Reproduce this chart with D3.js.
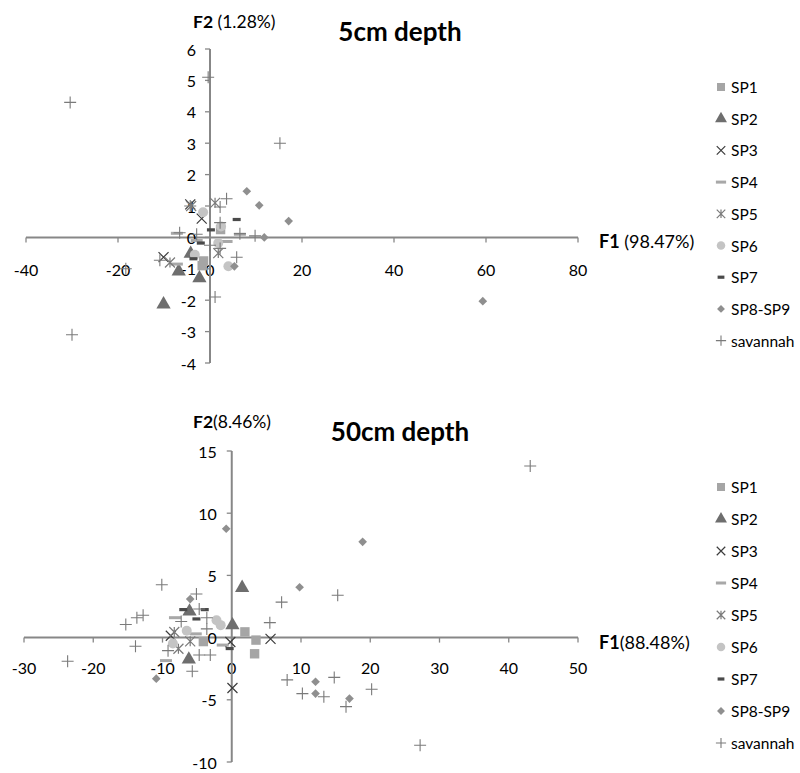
<!DOCTYPE html>
<html><head><meta charset="utf-8">
<script src="https://cdn.jsdelivr.net/npm/d3@7"></script>
<style>body{margin:0;background:#fff}svg{display:block}text{font-family:Lato,"Open Sans",sans-serif}</style>
</head><body>
<svg id="c" width="800" height="773"></svg>
<script>
const seriesNames = ["SP1","SP2","SP3","SP4","SP5","SP6","SP7","SP8-SP9","savannah"];

// ---- 5cm depth (F1, F2) ----
const top_SP1 = [[2.3,0.25],[-1.7,-0.9],[-1.4,-0.75]];
const top_SP2 = [[-4.2,-0.52],[-6.8,-1.08],[-2.3,-1.3],[-10.1,-2.13]];
const top_SP3 = [[-4.3,1.05],[-1.8,0.6],[-10.1,-0.63]];
const top_SP4 = [[-7.2,0.13],[6.5,0.1],[3.6,-0.13],[-2.9,-0.1],[-7.2,-0.85]];
const top_SP5 = [[1.1,1.1],[1.8,-0.5],[-8.7,-0.8],[-4.1,1.0]];
const top_SP6 = [[-1.5,0.8],[2.4,0.35],[1.8,-0.18],[-3.3,-0.55],[4.0,-0.92]];
const top_SP7 = [[5.8,0.57],[0.2,0.24],[-2.0,-0.18],[-3.6,-0.68]];
const top_SP89 = [[8.0,1.47],[10.7,1.02],[17.1,0.52],[11.8,0.0],[5.3,-0.92],[59.3,-2.03]];
const top_sav = [[-30.4,4.3],[-30,-3.1],[-0.4,5.1],[15.2,3.0],[-18.3,-1.0],[1.1,-1.9],[3.6,1.23],[2.2,0.97],[2.2,0.47],[6.5,0.12],[9.8,0.05],[-6.6,0.15],[-2.9,0.1],[0,-0.25],[2.2,-0.35],[5.8,-0.63],[-10.9,-0.73],[-4.3,1.0]];

// ---- 50cm depth (F1, F2) ----
const bot_SP1 = [[1.9,0.46],[3.5,-0.2],[3.3,-1.3],[-4.1,-0.32]];
const bot_SP2 = [[1.5,4.0],[0.1,1.0],[-6.1,2.1],[-6.2,-1.75]];
const bot_SP3 = [[5.6,-0.1],[-0.2,-0.35],[0.1,-4.05],[-8.8,0.15]];
const bot_SP4 = [[-8.2,1.6],[-5.2,0.3],[-1.3,-0.6],[-9.5,-1.85]];
const bot_SP5 = [[-8.3,0.45],[-6.0,-0.3],[-7.7,-0.9]];
const bot_SP6 = [[-2.2,1.4],[-1.6,1.0],[-6.5,0.55],[-8.5,-0.48]];
const bot_SP7 = [[-7.0,2.25],[-3.9,2.25],[-5.1,1.5],[-0.3,-0.88]];
const bot_SP89 = [[-0.8,8.75],[-6.0,3.1],[9.8,4.05],[18.9,7.7],[12.1,-3.55],[12.1,-4.5],[17.0,-4.9],[-10.9,-3.3]];
const bot_sav = [[43.1,13.8],[15.3,3.4],[7.2,2.85],[5.5,1.2],[8.0,-3.4],[10.2,-4.5],[13.3,-4.75],[14.8,-3.2],[16.5,-5.55],[20.2,-4.15],[27.2,-8.65],[-23.7,-1.9],[-13.9,-0.7],[-15.3,1.05],[-13.7,1.6],[-12.8,1.8],[-10.1,4.25],[-5.1,3.5],[-4.7,2.3],[-3.6,1.6],[-7.3,1.3],[-3.6,0.7],[-9.2,-1.05],[-4.7,-1.4],[-3.1,-1.4],[-5.7,-2.7]];

const topXTicks = [-40,-20,0,20,40,60,80];
const topYTicks = [-4,-3,-2,-1,0,1,2,3,4,5,6];
const botXTicks = [-30,-20,-10,0,10,20,30,40,50];
const botYTicks = [-10,-5,0,5,10,15];

const svg = d3.select("#c");
const axisColor = "#878787";

function marker(g, type, x, y, legend) {
  const s = legend ? 0.85 : 1;
  switch(type) {
    case "SP1": g.append("rect").attr("x",x-4.7*s).attr("y",y-4.7*s).attr("width",9.4*s).attr("height",9.4*s).attr("fill","#a5a5a5"); break;
    case "SP2": g.append("path").attr("d",d3.symbol(d3.symbolTriangle, legend?62:88)()).attr("transform",`translate(${x},${y})`).attr("fill","#6e6e6e"); break;
    case "SP3": g.append("path").attr("d",`M${x-5*s},${y-5*s}L${x+5*s},${y+5*s}M${x-5*s},${y+5*s}L${x+5*s},${y-5*s}`).attr("stroke","#3c3c3c").attr("stroke-width",1.2).attr("fill","none"); break;
    case "SP4": g.append("rect").attr("x",x-6*s).attr("y",y-1.5).attr("width",12*s).attr("height",3).attr("fill","#a8a8a8"); break;
    case "SP5": g.append("path").attr("d",`M${x-5*s},${y-5*s}L${x+5*s},${y+5*s}M${x-5*s},${y+5*s}L${x+5*s},${y-5*s}M${x},${y-5*s}L${x},${y+5*s}`).attr("stroke","#7a7a7a").attr("stroke-width",1.2).attr("fill","none"); break;
    case "SP6": g.append("circle").attr("cx",x).attr("cy",y).attr("r",5*s).attr("fill","#c4c4c4"); break;
    case "SP7": g.append("rect").attr("x",x-4*s).attr("y",y-1.6).attr("width",8*s).attr("height",3.2).attr("fill","#4a4a4a"); break;
    case "SP8-SP9": g.append("path").attr("d",d3.symbol(d3.symbolDiamond2, legend?40:48)()).attr("transform",`translate(${x},${y})`).attr("fill","#8f8f8f"); break;
    case "savannah": g.append("path").attr("d",`M${x-6*s},${y}L${x+6*s},${y}M${x},${y-6*s}L${x},${y+6*s}`).attr("stroke","#7a7a7a").attr("stroke-width",1.1).attr("fill","none"); break;
  }
}

function chart(cfg) {
  const x = d3.scaleLinear().domain(cfg.xDom).range(cfg.xRange);
  const y = d3.scaleLinear().domain(cfg.yDom).range(cfg.yRange);
  const g = svg.append("g");
  const x0 = x(0), y0 = y(0);
  g.append("line").attr("x1",x(cfg.xDom[0])).attr("x2",x(cfg.xDom[1])).attr("y1",y0).attr("y2",y0).attr("stroke",axisColor).attr("stroke-width",2);
  cfg.xTicks.forEach(t=>{
    g.append("line").attr("x1",x(t)).attr("x2",x(t)).attr("y1",y0).attr("y2",y0+5).attr("stroke",axisColor).attr("stroke-width",1.3);
    g.append("text").attr("x",x(t)).attr("y",y0+cfg.xLabOff).attr("text-anchor","middle").attr("dominant-baseline","central").attr("font-size",16).attr("fill","#000").text(t);
  });
  g.append("line").attr("x1",x0).attr("x2",x0).attr("y1",y(cfg.yDom[0])).attr("y2",y(cfg.yDom[1])).attr("stroke",axisColor).attr("stroke-width",2);
  cfg.yTicks.forEach(t=>{
    g.append("line").attr("x1",x0-5).attr("x2",x0).attr("y1",y(t)).attr("y2",y(t)).attr("stroke",axisColor).attr("stroke-width",1.3);
    g.append("text").attr("x",x0-cfg.yLabOff).attr("y",y(t)).attr("text-anchor","end").attr("dominant-baseline","central").attr("font-size",16).attr("fill","#000").text(t);
  });
  const pg = g.append("g");
  cfg.series.forEach((arr,i)=>{
    arr.forEach(p=>marker(pg, seriesNames[i], x(p[0]), y(p[1]), false));
  });
  g.append("text").attr("x",400).attr("y",cfg.titleY).attr("text-anchor","middle").attr("dominant-baseline","central").attr("font-size",26).attr("font-weight","bold").text(cfg.title);
  const f2 = g.append("text").attr("x",193).attr("y",cfg.f2Y).attr("dominant-baseline","central").attr("font-size",17.5);
  f2.append("tspan").attr("font-weight","bold").text("F2");
  f2.append("tspan").text(cfg.f2Pct);
  const f1 = g.append("text").attr("x",599).attr("y",y0+4).attr("dominant-baseline","central").attr("font-size",18);
  f1.append("tspan").attr("font-weight","bold").text("F1");
  f1.append("tspan").text(cfg.f1Pct);
  seriesNames.forEach((n,i)=>{
    const ly = cfg.legY + i*cfg.legStep;
    marker(g, n, 721, ly, true);
    g.append("text").attr("x",731).attr("y",ly).attr("dominant-baseline","central").attr("font-size",15.5).text(n);
  });
}

chart({
  xDom:[-40,80], xRange:[26,578], yDom:[-4,6], yRange:[363,49],
  xTicks: topXTicks, yTicks: topYTicks, xLabOff:32, yLabOff:14,
  series:[top_SP1,top_SP2,top_SP3,top_SP4,top_SP5,top_SP6,top_SP7,top_SP89,top_sav],
  title:"5cm depth", titleY:31, f2Y:21, f2Pct:" (1.28%)", f1Pct:" (98.47%)",
  legY:87, legStep:31.7
});
chart({
  xDom:[-30,50], xRange:[24,578], yDom:[-10,15], yRange:[762,451],
  xTicks: botXTicks, yTicks: botYTicks, xLabOff:30, yLabOff:15,
  series:[bot_SP1,bot_SP2,bot_SP3,bot_SP4,bot_SP5,bot_SP6,bot_SP7,bot_SP89,bot_sav],
  title:"50cm depth", titleY:431, f2Y:421, f2Pct:"(8.46%)", f1Pct:"(88.48%)",
  legY:487, legStep:32
});
</script>
</body></html>
